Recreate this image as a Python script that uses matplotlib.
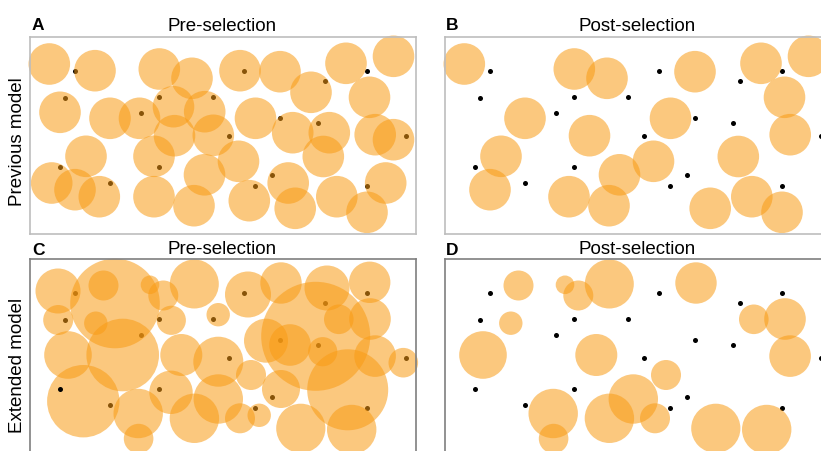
import matplotlib
matplotlib.use("Agg")
import matplotlib.pyplot as plt
from matplotlib.patches import Circle

plt.rcParams["font.family"] = ["Liberation Sans", "DejaVu Sans"]

# Prey positions (shared by every panel), in box pixel units, y measured from the top
dot_x = [45, 35.3, 111.3, 129, 183, 29.7, 80, 129, 214.3, 294.7, 337, 250,
         288.3, 376, 199.3, 241.7, 225.3, 337]
dot_y = [33.7, 61, 75.7, 60.3, 60.3, 130.3, 146, 130.3, 33.7, 44.3, 33.7, 81.3,
         86, 98.7, 98.7, 138, 149.3, 149.3]

# Previous model: fixed-size detection zones
prev_x = [19.3, 65, 30, 80, 109.5, 129.3, 162, 143.5, 174.7, 144.5, 183.3, 56,
          124, 21.7, 45, 69.3, 124, 164, 174.5, 210, 250, 281, 316, 363.5,
          339.5, 225.5, 262.7, 299.3, 293.3, 345.2, 363.5, 208.5, 258.2, 265.2,
          219.3, 306.8, 337, 355.7]
prev_y = [27, 33.7, 75.3, 81.3, 81.3, 32, 41.3, 69.7, 74.7, 98.7, 98.3, 119.3,
          119.3, 146, 152.7, 159.7, 159.7, 168.7, 137.8, 33.7, 34.7, 55.3, 26.3,
          19.3, 60.3, 81.3, 95.7, 95.7, 119.5, 97.7, 102.7, 124.3, 146, 171.3,
          163.7, 159.7, 175.3, 146]
prev_radius = 20.8
prev_survivors = [0, 3, 5, 6, 9, 11, 14, 16, 17, 18, 20, 22, 23, 24, 25, 28, 29,
                  31, 33, 35, 36]

# Extended model: detection zones of varying size
ext_x = [28, 85, 73.5, 28.2, 65.8, 120, 133.3, 164.3, 141.3, 188.2, 218, 251,
         297, 339.7, 340, 308.8, 285.7, 260, 236, 292.7, 345.1, 373.3, 317.7,
         251, 221, 188.3, 151.3, 141, 188.3, 164.4, 210, 229.2, 270.8, 321.7,
         108.2, 108.6, 53.3, 38, 92.7]
ext_y = [32, 44.5, 26.5, 61, 64.2, 25.8, 36.5, 25, 61.3, 55.7, 35.5, 24, 29,
         23.3, 60, 60.3, 77.3, 86, 81.7, 92.7, 97.1, 103.7, 130.8, 130, 116,
         102.7, 96, 133.3, 140, 159.3, 159.3, 156.3, 169.3, 170.5, 154.5, 179.6,
         142.2, 96, 96]
ext_r = [22.5, 44.8, 15, 15, 11.7, 9.3, 15, 24.5, 14.6, 11.7, 23, 20.7, 22.5,
         20.7, 20.8, 14.8, 54.5, 20.8, 22, 14.6, 20.8, 14.8, 40.5, 19, 15, 25,
         21, 21.7, 24.7, 24.7, 15, 11.7, 24.6, 24.7, 24.7, 14.8, 36.2, 23.8, 36.3]
ext_survivors = [2, 4, 5, 6, 7, 11, 14, 15, 20, 24, 26, 28, 29, 30, 32, 33, 34,
                 35, 37]
ext_front_dot = 5

ORANGE = "#F99B14"
FIG_W, FIG_H = 821, 452
BOX_W, BOX_H = 386, 197
DOT_SIZE = 13

fig = plt.figure(figsize=(FIG_W / 100, FIG_H / 100), dpi=100)


def panel(left, top, edge):
    ax = fig.add_axes([left / FIG_W, 1 - (top + BOX_H) / FIG_H,
                       BOX_W / FIG_W, BOX_H / FIG_H])
    ax.set_xlim(0, BOX_W)
    ax.set_ylim(BOX_H, 0)
    ax.set_xticks([])
    ax.set_yticks([])
    for s in ax.spines.values():
        s.set_color(edge)
        s.set_linewidth(1.2)
        s.set_zorder(5)
    return ax


def draw(ax, xs, ys, rs, front=None):
    under = [i for i in range(len(dot_x)) if i != front]
    ax.scatter([dot_x[i] for i in under], [dot_y[i] for i in under], s=DOT_SIZE,
               c="black", linewidths=0, zorder=1, clip_on=False)
    for x, y, r in zip(xs, ys, rs):
        ax.add_patch(Circle((x, y), r, facecolor=ORANGE, edgecolor="none",
                            alpha=0.55, zorder=2, clip_on=False))
    if front is not None:
        ax.scatter([dot_x[front]], [dot_y[front]], s=DOT_SIZE, c="black",
                   linewidths=0, zorder=3, clip_on=False)


axA = panel(30, 38, "#BDBDBD")
draw(axA, prev_x, prev_y, [prev_radius] * len(prev_x))

axB = panel(445, 38, "#BDBDBD")
draw(axB, [prev_x[i] for i in prev_survivors], [prev_y[i] for i in prev_survivors],
     [prev_radius] * len(prev_survivors))

axC = panel(30, 260, "#7F7F7F")
draw(axC, ext_x, ext_y, ext_r, front=ext_front_dot)

axD = panel(445, 260, "#7F7F7F")
draw(axD, [ext_x[i] for i in ext_survivors], [ext_y[i] for i in ext_survivors],
     [ext_r[i] for i in ext_survivors])


def ftext(x, y, s, **kw):
    fig.text(x / FIG_W, 1 - y / FIG_H, s, **kw)


title_kw = dict(ha="center", va="baseline", fontsize=13.5)
ftext(222, 31, "Pre-selection", **title_kw)
ftext(637, 31, "Post-selection", **title_kw)
ftext(222, 254, "Pre-selection", **title_kw)
ftext(637, 254, "Post-selection", **title_kw)

letter_kw = dict(ha="left", va="baseline", fontsize=12.5, fontweight="bold")
ftext(32, 30.5, "A", **letter_kw)
ftext(446, 30.5, "B", **letter_kw)
ftext(32, 255, "C", **letter_kw)
ftext(446, 255, "D", **letter_kw)

ylab_kw = dict(ha="center", va="center", rotation=90, fontsize=13.5)
ftext(18, 142, "Previous model", **ylab_kw)
ftext(18, 365, "Extended model", **ylab_kw)

fig.savefig("out.png", dpi=100)
